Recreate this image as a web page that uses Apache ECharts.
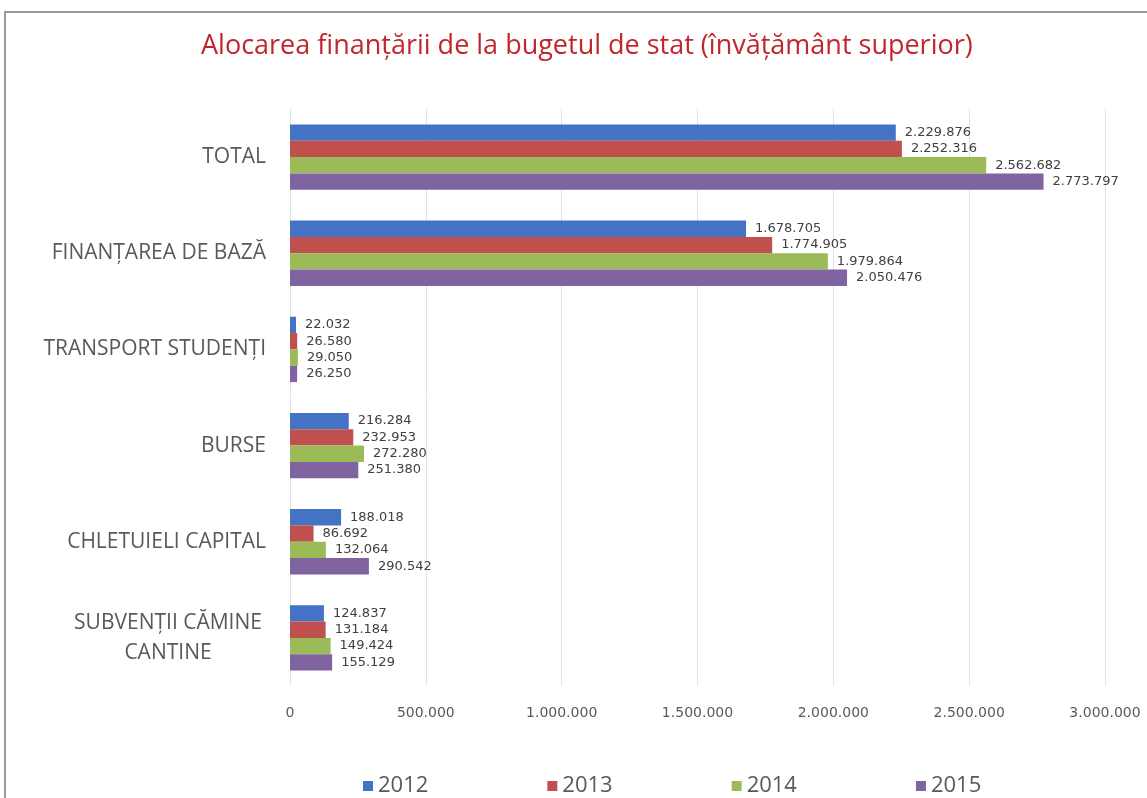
<!DOCTYPE html>
<html>
<head>
<meta charset="utf-8">
<script src="https://cdn.jsdelivr.net/npm/echarts@6/dist/echarts.min.js"></script>
<style>
  html, body { margin: 0; padding: 0; background: #fff; }
  #chart { width: 1147px; height: 798px; }
</style>
</head>
<body>
<div id="chart"></div>
<script>
// categorii si valori (lei)
const categories = ['TOTAL', 'FINANȚAREA DE BAZĂ', 'TRANSPORT STUDENȚI', 'BURSE', 'CHLETUIELI CAPITAL', 'SUBVENȚII CĂMINE\nCANTINE']
const years = ['2012', '2013', '2014', '2015']
const values2012 = [2229876, 1678705, 22032, 216284, 188018, 124837]
const values2013 = [2252316, 1774905, 26580, 232953, 86692, 131184]
const values2014 = [2562682, 1979864, 29050, 272280, 132064, 149424]
const values2015 = [2773797, 2050476, 26250, 251380, 290542, 155129]
const xTicks = [0, 500000, 1000000, 1500000, 2000000, 2500000, 3000000]

const colors = ['#4472c4', '#c0504d', '#9bbb59', '#8064a2']

// separator de mii cu punct
const fmt = v => String(v).replace(/\B(?=(\d{3})+(?!\d))/g, '.')

const chart = echarts.init(document.getElementById('chart'))

const makeSeries = (name, data, color) => ({
  name: name,
  type: 'bar',
  data: data,
  barGap: '0%',
  barCategoryGap: '32%',
  itemStyle: { color: color },
  label: {
    show: true,
    position: 'right',
    distance: 9,
    color: '#404040',
    fontFamily: 'DejaVu Sans',
    fontSize: 13,
    formatter: p => fmt(p.value)
  }
})

const option = {
  animation: false,
  backgroundColor: '#fff',
  title: {
    text: 'Alocarea finanțării de la bugetul de stat (învățământ superior)',
    left: 196,
    top: 28,
    textStyle: {
      color: '#c0272d',
      fontFamily: 'Open Sans',
      fontWeight: 'normal',
      fontSize: 27
    }
  },
  legend: {
    data: years,
    left: 358,
    top: 770,
    itemWidth: 10,
    itemHeight: 10,
    itemGap: 119,
    icon: 'rect',
    textStyle: {
      color: '#595959',
      fontFamily: 'Open Sans',
      fontSize: 22
    }
  },
  grid: {
    left: 290,
    right: 42,
    top: 109,
    bottom: 112,
    containLabel: false
  },
  xAxis: {
    type: 'value',
    min: xTicks[0],
    max: xTicks[xTicks.length - 1],
    interval: xTicks[1] - xTicks[0],
    axisLine: { show: false },
    axisTick: { show: false },
    splitLine: { lineStyle: { color: '#e3e3e3', width: 1 } },
    axisLabel: {
      margin: 20,
      color: '#595959',
      fontFamily: 'DejaVu Sans',
      fontSize: 14,
      formatter: v => fmt(v)
    }
  },
  yAxis: {
    type: 'category',
    data: categories,
    inverse: true,
    axisLine: { show: false },
    axisTick: { show: false },
    axisLabel: {
      margin: 24,
      align: 'right',
      // eticheta pe doua randuri are randurile centrate
      formatter: v => {
        const lines = v.split('\n')
        if (lines.length === 1) return '{r|' + v + '}'
        return lines.map(s => '{c|' + s + '}').join('\n')
      },
      rich: {
        r: { color: '#595959', fontFamily: 'Open Sans', fontSize: 21, lineHeight: 30 },
        c: { color: '#595959', fontFamily: 'Open Sans', fontSize: 21, lineHeight: 30, width: 196, align: 'center' }
      }
    }
  },
  graphic: [
    {
      type: 'polyline',
      shape: { points: [[5, 798], [5, 12], [1147, 12]] },
      style: { stroke: '#9a9a9a', lineWidth: 2, fill: null }
    }
  ],
  series: [
    makeSeries(years[0], values2012, colors[0]),
    makeSeries(years[1], values2013, colors[1]),
    makeSeries(years[2], values2014, colors[2]),
    makeSeries(years[3], values2015, colors[3])
  ]
}

chart.setOption(option)
</script>
</body>
</html>
